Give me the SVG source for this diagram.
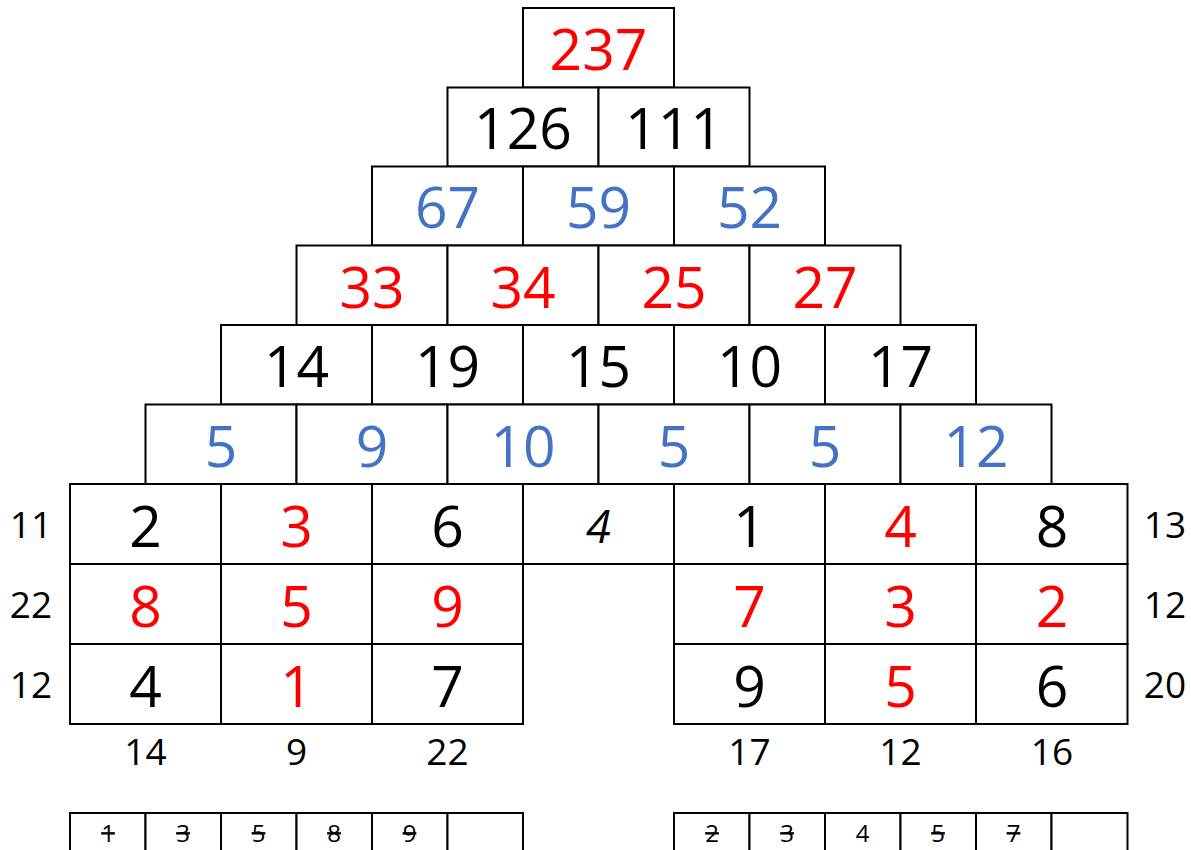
<svg xmlns="http://www.w3.org/2000/svg" width="1191" height="850" viewBox="0 0 1191 850">
<style>
.c{fill:#fff;stroke:#000;stroke-width:2}
text{font-family:"Open Sans","Liberation Sans",sans-serif;text-anchor:middle}
.n{font-size:57px}
.k{fill:#000}.r{fill:#ff0000}.b{fill:#4472c4}
.s{font-size:37px;fill:#000}
.t{font-size:24px;fill:#000;text-decoration:line-through}
.u{font-size:24px;fill:#000}
.i{font-size:45px;font-style:italic;fill:#000}
</style>
<rect width="1191" height="850" fill="#fff"/>
<g id="row1">
<rect class="c" x="523" y="8" width="151" height="79.5"/>
<text class="n r" x="598.5" y="70">237</text>
</g>
<g id="row2">
<rect class="c" x="447.5" y="87.5" width="151" height="79"/>
<rect class="c" x="598.5" y="87.5" width="151" height="79"/>
<text class="n k" x="523" y="149">126</text>
<text class="n k" x="674" y="149">111</text>
</g>
<g id="row3">
<rect class="c" x="372" y="166.5" width="151" height="79"/>
<rect class="c" x="523" y="166.5" width="151" height="79"/>
<rect class="c" x="674" y="166.5" width="151" height="79"/>
<text class="n b" x="447.5" y="228">67</text>
<text class="n b" x="598.5" y="228">59</text>
<text class="n b" x="749.5" y="228">52</text>
</g>
<g id="row4">
<rect class="c" x="296.5" y="245.5" width="151" height="79.5"/>
<rect class="c" x="447.5" y="245.5" width="151" height="79.5"/>
<rect class="c" x="598.5" y="245.5" width="151" height="79.5"/>
<rect class="c" x="749.5" y="245.5" width="151" height="79.5"/>
<text class="n r" x="372" y="307.5">33</text>
<text class="n r" x="523" y="307.5">34</text>
<text class="n r" x="674" y="307.5">25</text>
<text class="n r" x="825" y="307.5">27</text>
</g>
<g id="row5">
<rect class="c" x="221" y="325" width="151" height="79.5"/>
<rect class="c" x="372" y="325" width="151" height="79.5"/>
<rect class="c" x="523" y="325" width="151" height="79.5"/>
<rect class="c" x="674" y="325" width="151" height="79.5"/>
<rect class="c" x="825" y="325" width="151" height="79.5"/>
<text class="n k" x="296.5" y="387">14</text>
<text class="n k" x="447.5" y="387">19</text>
<text class="n k" x="598.5" y="387">15</text>
<text class="n k" x="749.5" y="387">10</text>
<text class="n k" x="900.5" y="387">17</text>
</g>
<g id="row6">
<rect class="c" x="145.5" y="404.5" width="151" height="79.5"/>
<rect class="c" x="296.5" y="404.5" width="151" height="79.5"/>
<rect class="c" x="447.5" y="404.5" width="151" height="79.5"/>
<rect class="c" x="598.5" y="404.5" width="151" height="79.5"/>
<rect class="c" x="749.5" y="404.5" width="151" height="79.5"/>
<rect class="c" x="900.5" y="404.5" width="151" height="79.5"/>
<text class="n b" x="221" y="466.5">5</text>
<text class="n b" x="372" y="466.5">9</text>
<text class="n b" x="523" y="466.5">10</text>
<text class="n b" x="674" y="466.5">5</text>
<text class="n b" x="825" y="466.5">5</text>
<text class="n b" x="976" y="466.5">12</text>
</g>
<g id="row7">
<rect class="c" x="70" y="484" width="151" height="80"/>
<rect class="c" x="221" y="484" width="151" height="80"/>
<rect class="c" x="372" y="484" width="151" height="80"/>
<rect class="c" x="523" y="484" width="151" height="80"/>
<rect class="c" x="674" y="484" width="151" height="80"/>
<rect class="c" x="825" y="484" width="151" height="80"/>
<rect class="c" x="976" y="484" width="151.5" height="80"/>
<text class="n k" x="145.5" y="546.5">2</text>
<text class="n r" x="296.5" y="546.5">3</text>
<text class="n k" x="447.5" y="546.5">6</text>
<text class="i" x="598.5" y="543">4</text>
<text class="n k" x="749.5" y="546.5">1</text>
<text class="n r" x="900.5" y="546.5">4</text>
<text class="n k" x="1052" y="546.5">8</text>
</g>
<g id="row8">
<rect class="c" x="70" y="564" width="151" height="80"/>
<rect class="c" x="221" y="564" width="151" height="80"/>
<rect class="c" x="372" y="564" width="151" height="80"/>
<rect class="c" x="674" y="564" width="151" height="80"/>
<rect class="c" x="825" y="564" width="151" height="80"/>
<rect class="c" x="976" y="564" width="151.5" height="80"/>
<text class="n r" x="145.5" y="626.5">8</text>
<text class="n r" x="296.5" y="626.5">5</text>
<text class="n r" x="447.5" y="626.5">9</text>
<text class="n r" x="749.5" y="626.5">7</text>
<text class="n r" x="900.5" y="626.5">3</text>
<text class="n r" x="1052" y="626.5">2</text>
</g>
<g id="row9">
<rect class="c" x="70" y="644" width="151" height="80"/>
<rect class="c" x="221" y="644" width="151" height="80"/>
<rect class="c" x="372" y="644" width="151" height="80"/>
<rect class="c" x="674" y="644" width="151" height="80"/>
<rect class="c" x="825" y="644" width="151" height="80"/>
<rect class="c" x="976" y="644" width="151.5" height="80"/>
<text class="n k" x="145.5" y="706.5">4</text>
<text class="n r" x="296.5" y="706.5">1</text>
<text class="n k" x="447.5" y="706.5">7</text>
<text class="n k" x="749.5" y="706.5">9</text>
<text class="n r" x="900.5" y="706.5">5</text>
<text class="n k" x="1052" y="706.5">6</text>
</g>
<g id="side-labels">
<text class="s" x="31" y="538">11</text>
<text class="s" x="31" y="618">22</text>
<text class="s" x="31" y="698">12</text>
<text class="s" x="1165" y="538">13</text>
<text class="s" x="1165" y="618">12</text>
<text class="s" x="1165" y="698">20</text>
<text class="s" x="145.5" y="765">14</text>
<text class="s" x="296.5" y="765">9</text>
<text class="s" x="447.5" y="765">22</text>
<text class="s" x="749.5" y="765">17</text>
<text class="s" x="900.5" y="765">12</text>
<text class="s" x="1052" y="765">16</text>
</g>
<g id="used-left">
<rect class="c" x="70" y="813" width="75.5" height="50"/>
<rect class="c" x="145.5" y="813" width="75.5" height="50"/>
<rect class="c" x="221" y="813" width="75.5" height="50"/>
<rect class="c" x="296.5" y="813" width="75.5" height="50"/>
<rect class="c" x="372" y="813" width="75.5" height="50"/>
<rect class="c" x="447.5" y="813" width="75.5" height="50"/>
<text class="t" x="108" y="842">1</text>
<text class="t" x="183" y="842">3</text>
<text class="t" x="258.5" y="842">5</text>
<text class="t" x="334" y="842">8</text>
<text class="t" x="409.5" y="842">9</text>
</g>
<g id="used-right">
<rect class="c" x="674" y="813" width="75.5" height="50"/>
<rect class="c" x="749.5" y="813" width="75.5" height="50"/>
<rect class="c" x="825" y="813" width="75.5" height="50"/>
<rect class="c" x="900.5" y="813" width="75.5" height="50"/>
<rect class="c" x="976" y="813" width="75.5" height="50"/>
<rect class="c" x="1051.5" y="813" width="76" height="50"/>
<text class="t" x="712" y="842">2</text>
<text class="t" x="787" y="842">3</text>
<text class="u" x="862.5" y="842">4</text>
<text class="t" x="938" y="842">5</text>
<text class="t" x="1013.5" y="842">7</text>
</g>
<g id="connectors"></g>
</svg>
